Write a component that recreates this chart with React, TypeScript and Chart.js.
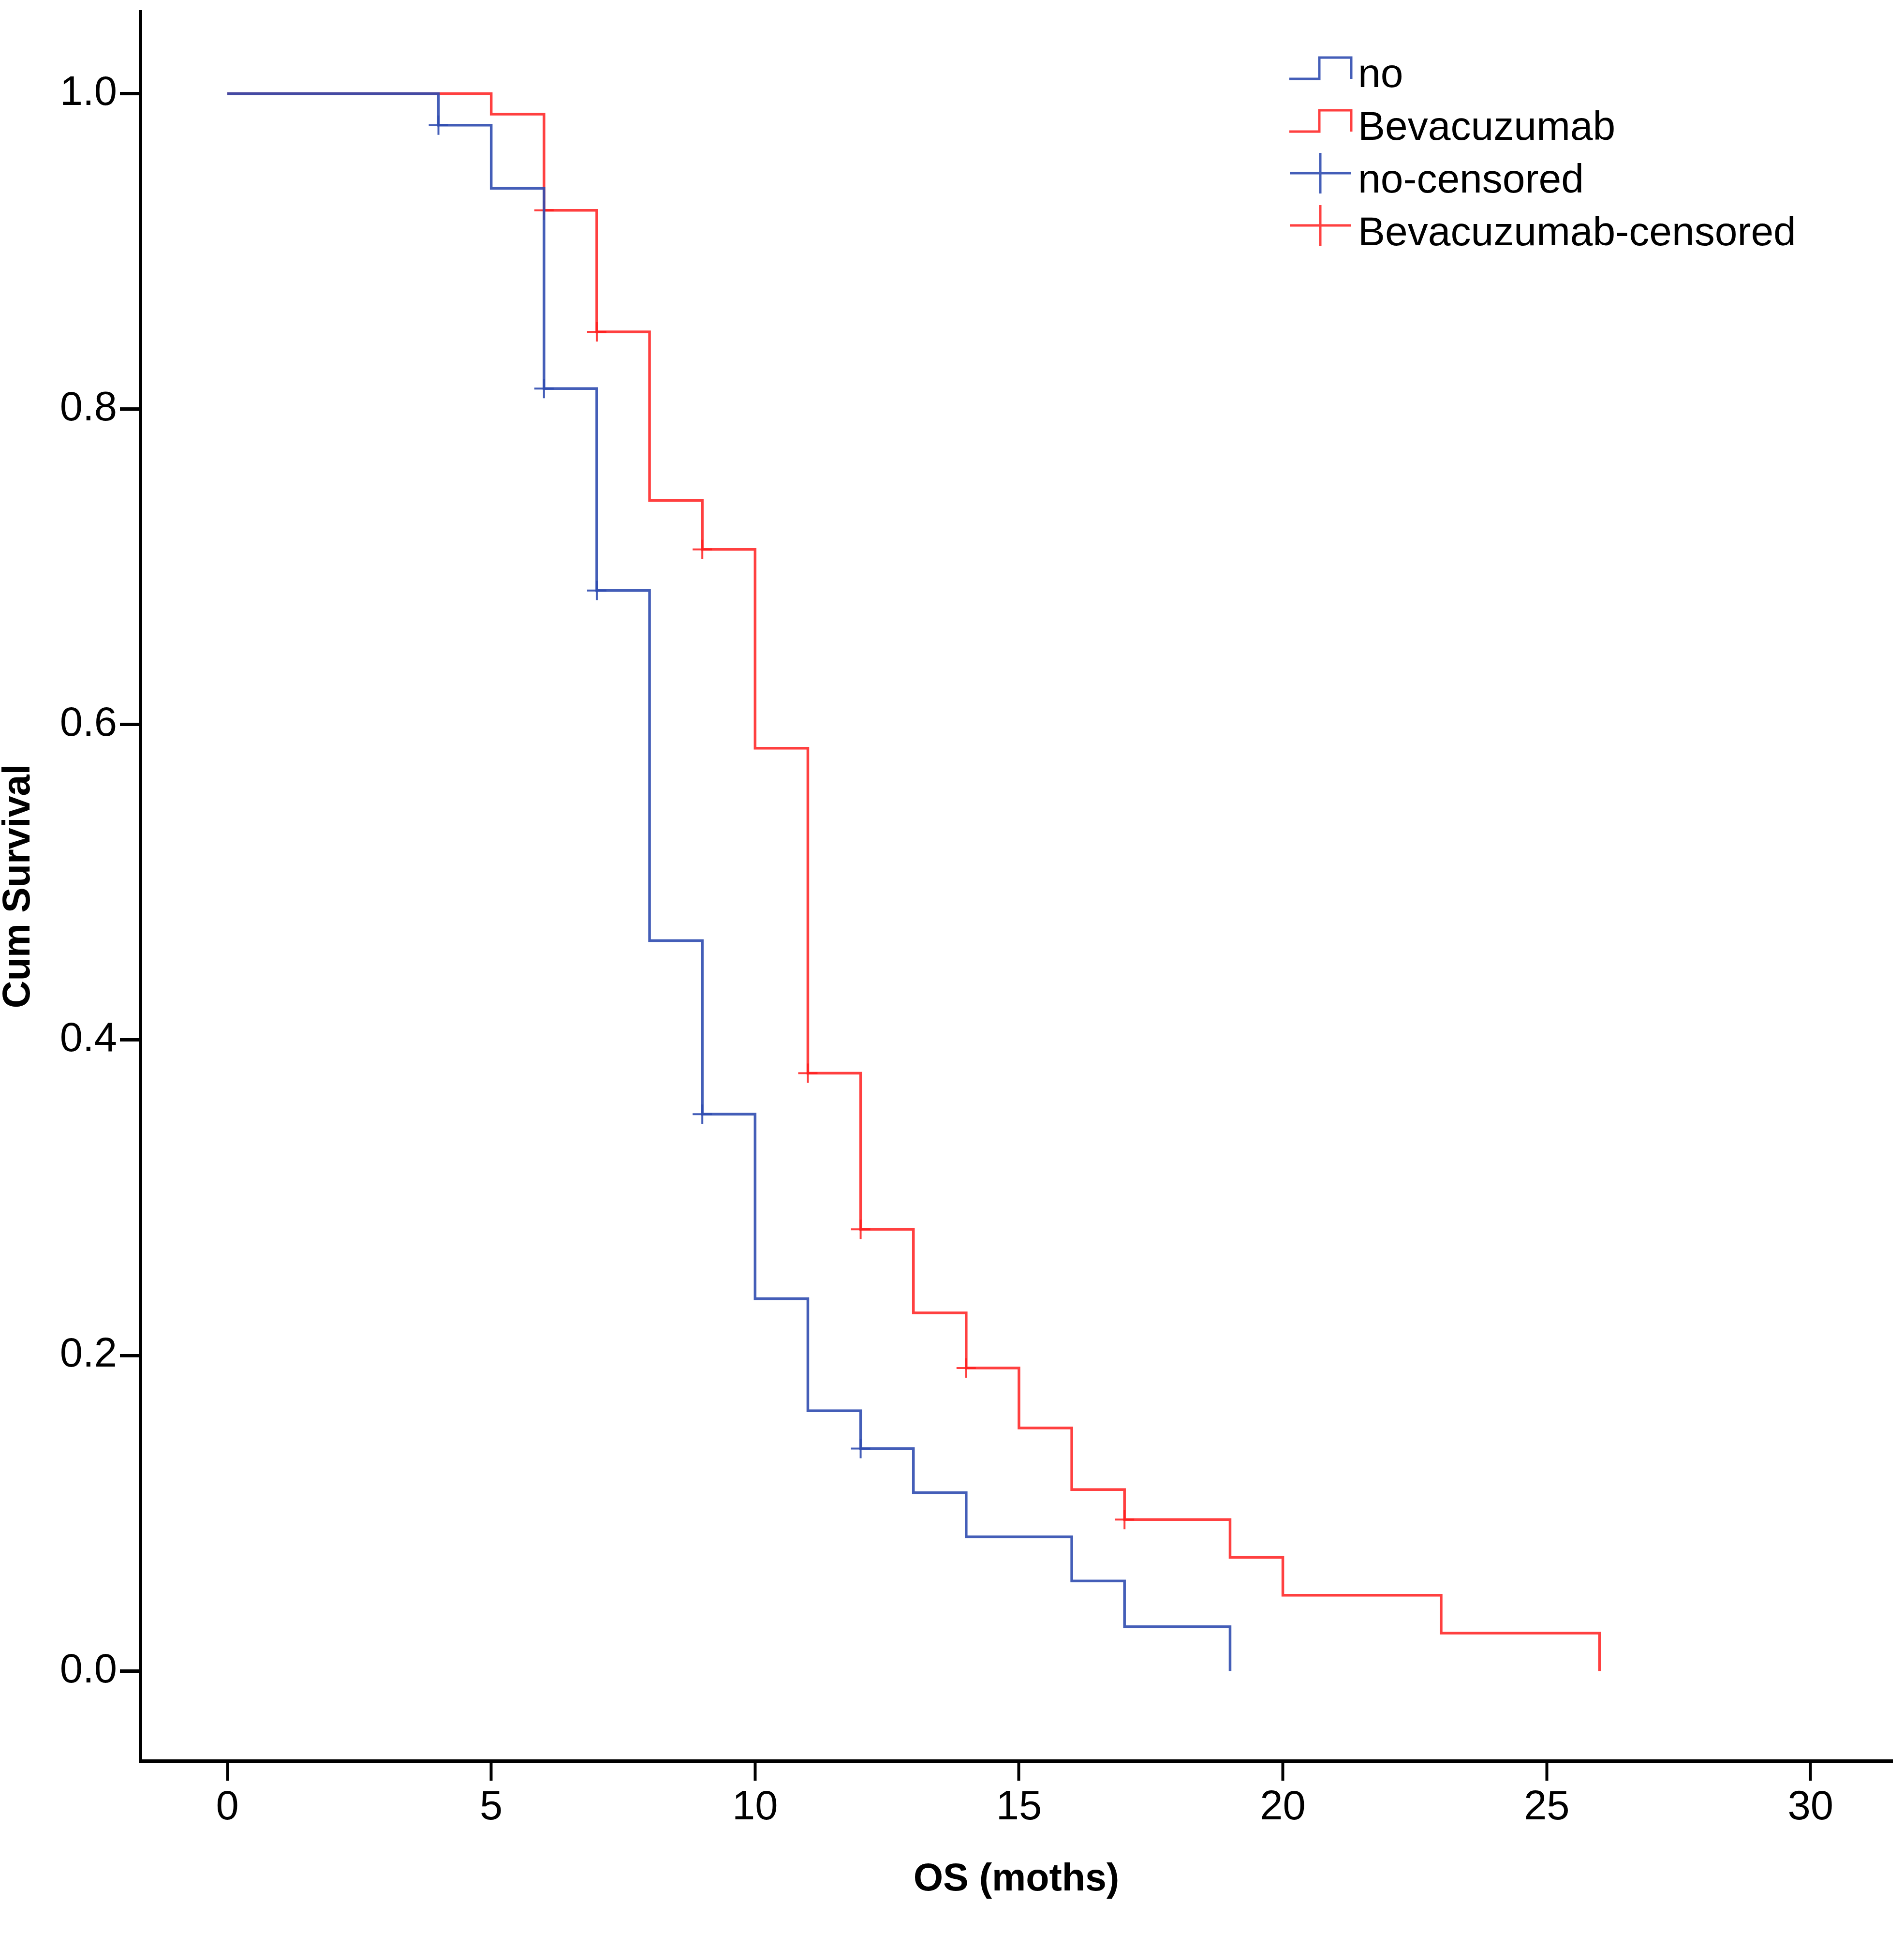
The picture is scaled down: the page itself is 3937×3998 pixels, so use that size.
import { useEffect, useRef } from "react";
import { Chart, registerables } from "chart.js";

Chart.register(...registerables);

// Kaplan-Meier steps
const noTimes = [0, 4, 5, 6, 7, 8, 9, 10, 11, 12, 13, 14, 16, 17, 19];
const noSurvival = [1, 0.98, 0.94, 0.813, 0.685, 0.463, 0.353, 0.236, 0.165, 0.141, 0.113, 0.085, 0.057, 0.028, 0];
const bevTimes = [0, 5, 6, 7, 8, 9, 10, 11, 12, 13, 14, 15, 16, 17, 19, 20, 23, 26];
const bevSurvival = [1, 0.987, 0.926, 0.849, 0.742, 0.711, 0.585, 0.379, 0.28, 0.227, 0.192, 0.154, 0.115, 0.096, 0.072, 0.048, 0.024, 0];

// censored observations
const noCensorTimes = [4, 6, 7, 9, 12];
const noCensorSurvival = [0.98, 0.813, 0.685, 0.353, 0.141];
const bevCensorTimes = [6, 7, 9, 11, 12, 14, 17];
const bevCensorSurvival = [0.926, 0.849, 0.711, 0.379, 0.28, 0.192, 0.096];

const xTicks = [0, 5, 10, 15, 20, 25, 30];
const yTicks = [0, 0.2, 0.4, 0.6, 0.8, 1.0];

const legendLabels = ["no", "Bevacuzumab", "no-censored", "Bevacuzumab-censored"];

const BLUE = "rgba(48, 76, 176, 0.9)";
const RED = "rgba(255, 30, 30, 0.85)";
const FONT = "'Liberation Sans', Arial, sans-serif";

const toPoints = (xs: number[], ys: number[]) => xs.map((x, i) => ({ x, y: ys[i] }));

const kmLegend = {
  id: "kmLegend",
  afterDraw(chart: Chart) {
    const ctx = chart.ctx;
    const colors = [BLUE, RED, BLUE, RED];
    ctx.save();
    ctx.lineWidth = 5;
    ctx.font = `84px ${FONT}`;
    ctx.textBaseline = "alphabetic";
    legendLabels.forEach((label, i) => {
      ctx.strokeStyle = colors[i];
      ctx.beginPath();
      if (i < 2) {
        const low = 163 + i * 109;
        const high = low - 44;
        ctx.moveTo(2666, low);
        ctx.lineTo(2728, low);
        ctx.lineTo(2728, high);
        ctx.lineTo(2794, high);
        ctx.lineTo(2794, low);
      } else {
        const cy = 358 + (i - 2) * 108;
        ctx.moveTo(2667, cy);
        ctx.lineTo(2793, cy);
        ctx.moveTo(2730, cy - 42);
        ctx.lineTo(2730, cy + 42);
      }
      ctx.stroke();
      ctx.fillStyle = "#000";
      ctx.fillText(label, 2808, 180 + i * 109);
    });
    ctx.restore();
  },
};

export default function App() {
  const chartRef = useRef<HTMLCanvasElement>(null);
  const chartInstanceRef = useRef<Chart | null>(null);

  useEffect(() => {
    if (!chartRef.current) return;
    const ctx = chartRef.current.getContext("2d");
    if (!ctx) return;
    if (chartInstanceRef.current) chartInstanceRef.current.destroy();

    chartInstanceRef.current = new Chart(ctx, {
      type: "line",
      data: {
        datasets: [
          {
            label: legendLabels[0],
            data: toPoints(noTimes, noSurvival),
            borderColor: BLUE,
            borderWidth: 5.5,
            stepped: "before",
            pointRadius: 0,
            fill: false,
          },
          {
            label: legendLabels[1],
            data: toPoints(bevTimes, bevSurvival),
            borderColor: RED,
            borderWidth: 5.5,
            stepped: "before",
            pointRadius: 0,
            fill: false,
          },
          {
            label: legendLabels[2],
            data: toPoints(noCensorTimes, noCensorSurvival),
            showLine: false,
            pointStyle: "cross",
            pointRadius: 20,
            pointBorderWidth: 4,
            borderColor: BLUE,
            pointBorderColor: BLUE,
          },
          {
            label: legendLabels[3],
            data: toPoints(bevCensorTimes, bevCensorSurvival),
            showLine: false,
            pointStyle: "cross",
            pointRadius: 20,
            pointBorderWidth: 4,
            borderColor: RED,
            pointBorderColor: RED,
          },
        ],
      },
      options: {
        animation: false,
        responsive: true,
        maintainAspectRatio: false,
        devicePixelRatio: 1,
        layout: { padding: { top: 0, right: 21, left: 0, bottom: 0 } },
        plugins: {
          legend: { display: false },
          tooltip: { enabled: false },
        },
        scales: {
          x: {
            type: "linear",
            min: -1.65,
            max: 31.55,
            afterBuildTicks: (scale: any) => {
              scale.ticks = xTicks.map((v) => ({ value: v }));
            },
            afterFit: (scale: any) => {
              scale.height = 358;
              scale.paddingLeft = 0;
              scale.paddingRight = 0;
            },
            grid: {
              drawOnChartArea: false,
              drawTicks: true,
              tickLength: 41,
              tickWidth: 6,
              tickColor: "#000",
            },
            border: { display: true, color: "#000", width: 7 },
            ticks: {
              color: "#000",
              font: { family: FONT, size: 85 },
              padding: 6,
              maxRotation: 0,
            },
            title: {
              display: true,
              text: "OS (moths)",
              color: "#000",
              font: { family: FONT, size: 79, weight: "bold" },
              padding: { top: 0, bottom: 64 },
            },
          },
          y: {
            type: "linear",
            min: -0.057,
            max: 1.052,
            afterBuildTicks: (scale: any) => {
              scale.ticks = yTicks.map((v) => ({ value: v }));
            },
            afterFit: (scale: any) => {
              scale.width = 290;
              scale.paddingTop = 0;
              scale.paddingBottom = 0;
            },
            grid: {
              drawOnChartArea: false,
              drawTicks: true,
              tickLength: 42,
              tickWidth: 7,
              tickColor: "#000",
            },
            border: { display: true, color: "#000", width: 7 },
            ticks: {
              color: "#000",
              font: { family: FONT, size: 85 },
              padding: 6,
              callback: (v: any) => Number(v).toFixed(1),
            },
            title: {
              display: true,
              text: "Cum Survival",
              color: "#000",
              font: { family: FONT, size: 79, weight: "bold", lineHeight: 0.8 },
              padding: { top: 8, bottom: 0 },
            },
          },
        },
      },
      plugins: [kmLegend],
    });

    return () => {
      if (chartInstanceRef.current) {
        chartInstanceRef.current.destroy();
        chartInstanceRef.current = null;
      }
    };
  }, []);

  return (
    <div style={{ position: "fixed", left: 0, top: 0, width: 3937, height: 3998, background: "#fff" }}>
      <canvas ref={chartRef} />
    </div>
  );
}
